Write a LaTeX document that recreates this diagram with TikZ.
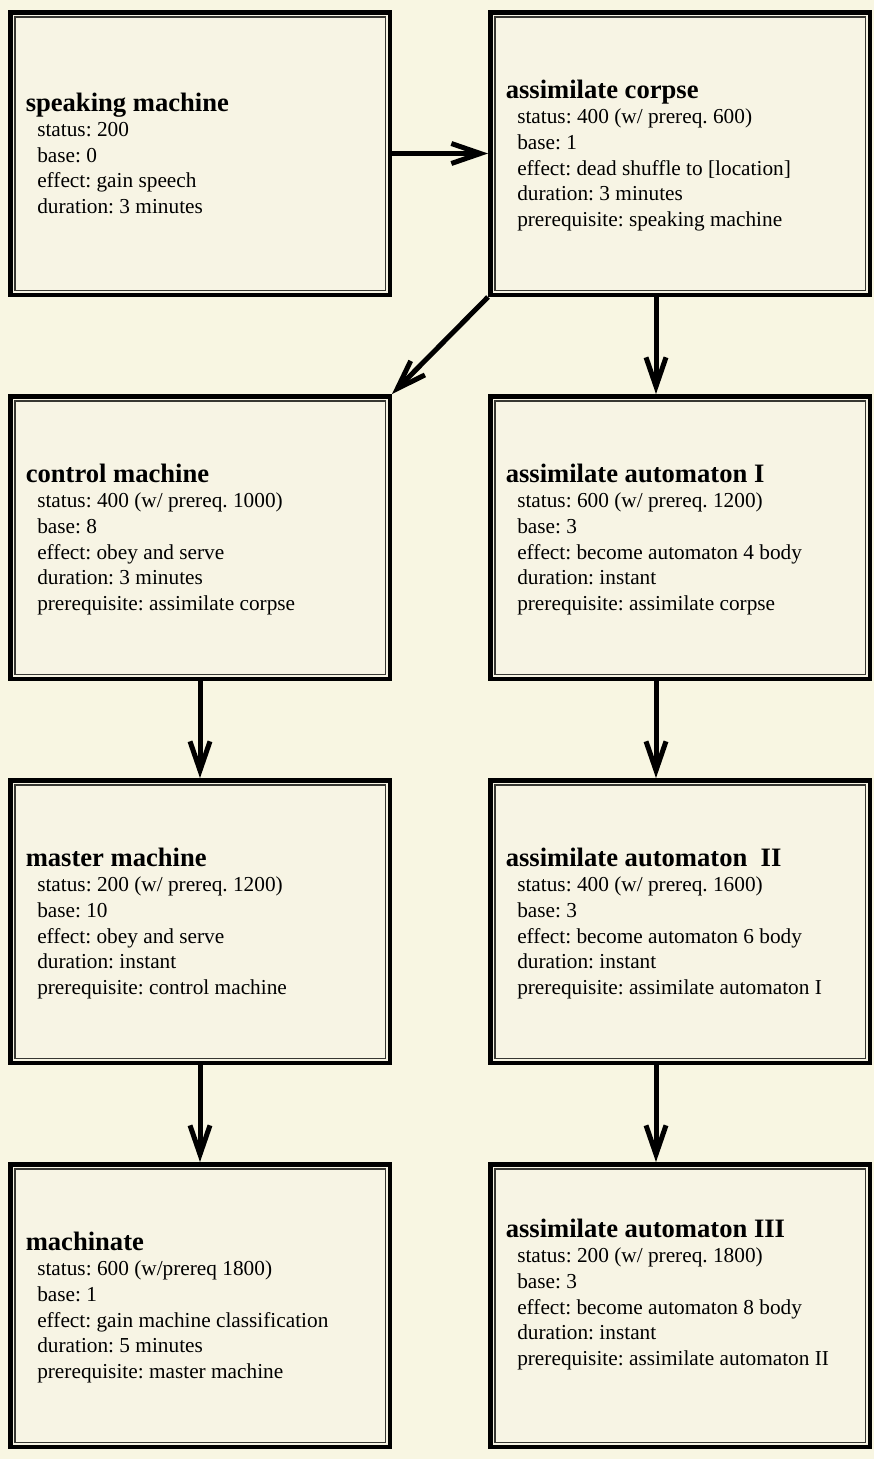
\documentclass[tikz,border=0pt]{standalone}
\usepackage{fontspec}
\setmainfont{Liberation Serif}
\usetikzlibrary{arrows.meta}

\definecolor{parchment}{RGB}{248,246,226}
\definecolor{cardfill}{RGB}{247,244,228}
\definecolor{rulegray}{RGB}{55,55,50}

% card text: a bold title followed by indented attribute lines,
% all on a fixed 25.6pt baseline grid
\newcommand\cardtext[2]{\hbox to 348.5pt{\vbox{%
  \baselineskip=25.6pt\lineskiplimit=-\maxdimen\lineskip=0pt
  \hbox{\rule{0pt}{24pt}{\fontsize{26.6}{25.6}\selectfont\bfseries #1}}%
  #2}\hss}}
\newcommand\cardline[1]{\hbox{\hskip11.5pt #1}}
% last line; the optional argument is the depth kept below it
\newcommand\cardlast[2][6.6pt]{\hbox{\hskip11.5pt #2\rule[-#1]{0pt}{#1}}}

\begin{document}
\frenchspacing
\begin{tikzpicture}[x=1pt,y=-1pt,
  card/.style={draw=black, line width=4.5pt, fill=cardfill, anchor=north west,
    minimum width=379.5pt, minimum height=282.5pt,
    inner xsep=15.5pt, inner ysep=0pt,
    font=\fontsize{21.3}{25.6}\selectfont,
    path picture={\draw[line width=1.1pt, rulegray]
      ([shift={(4.7pt,-4.7pt)}]path picture bounding box.north west) rectangle
      ([shift={(-4.7pt,4.7pt)}]path picture bounding box.south east);}},
  link/.style={line width=5pt, -{Straight Barb[length=29pt,width=20pt]}}]

% page
\fill[parchment] (0,0) rectangle (874,1459);

% left column
\node[card] (speak) at (8,10) {\cardtext{speaking machine}{%
  \cardline{status: 200}\cardline{base: 0}\cardline{effect: gain speech}%
  \cardlast{duration: 3 minutes}}};
\node[card] (control) at (8,394) {\cardtext{control machine}{%
  \cardline{status: 400 (w/ prereq. 1000)}\cardline{base: 8}%
  \cardline{effect: obey and serve}\cardline{duration: 3 minutes}%
  \cardlast{prerequisite: assimilate corpse}}};
\node[card] (master) at (8,778) {\cardtext{master machine}{%
  \cardline{status: 200 (w/ prereq. 1200)}\cardline{base: 10}%
  \cardline{effect: obey and serve}\cardline{duration: instant}%
  \cardlast{prerequisite: control machine}}};
\node[card] (machinate) at (8,1162) {\cardtext{machinate}{%
  \cardline{status: 600 (w/prereq 1800)}\cardline{base: 1}%
  \cardline{effect: gain machine classification}\cardline{duration: 5 minutes}%
  \cardlast{prerequisite: master machine}}};

% right column
\node[card] (corpse) at (488,10) {\cardtext{assimilate corpse}{%
  \cardline{status: 400 (w/ prereq. 600)}\cardline{base: 1}%
  \cardline{effect: dead shuffle to [location]}\cardline{duration: 3 minutes}%
  \cardlast{prerequisite: speaking machine}}};
\node[card] (autoI) at (488,394) {\cardtext{assimilate automaton I}{%
  \cardline{status: 600 (w/ prereq. 1200)}\cardline{base: 3}%
  \cardline{effect: become automaton 4 body}\cardline{duration: instant}%
  \cardlast{prerequisite: assimilate corpse}}};
\node[card] (autoII) at (488,778) {\cardtext{assimilate automaton\ \ II}{%
  \cardline{status: 400 (w/ prereq. 1600)}\cardline{base: 3}%
  \cardline{effect: become automaton 6 body}\cardline{duration: instant}%
  \cardlast{prerequisite: assimilate automaton I}}};
\node[card] (autoIII) at (488,1162) {\cardtext{assimilate automaton III}{%
  \cardline{status: 200 (w/ prereq. 1800)}\cardline{base: 3}%
  \cardline{effect: become automaton 8 body}\cardline{duration: instant}%
  \cardlast[32.6pt]{prerequisite: assimilate automaton II}}};

% connectors
\draw[link] (speak.east) -- (corpse.west);
\draw[link] (corpse.south west) -- (control.north east);
\draw[link] ([xshift=-24pt]corpse.south) -- ([xshift=-24pt]autoI.north);
\draw[link] (control.south) -- (master.north);
\draw[link] ([xshift=-24pt]autoI.south) -- ([xshift=-24pt]autoII.north);
\draw[link] (master.south) -- (machinate.north);
\draw[link] ([xshift=-24pt]autoII.south) -- ([xshift=-24pt]autoIII.north);
\end{tikzpicture}
\end{document}
